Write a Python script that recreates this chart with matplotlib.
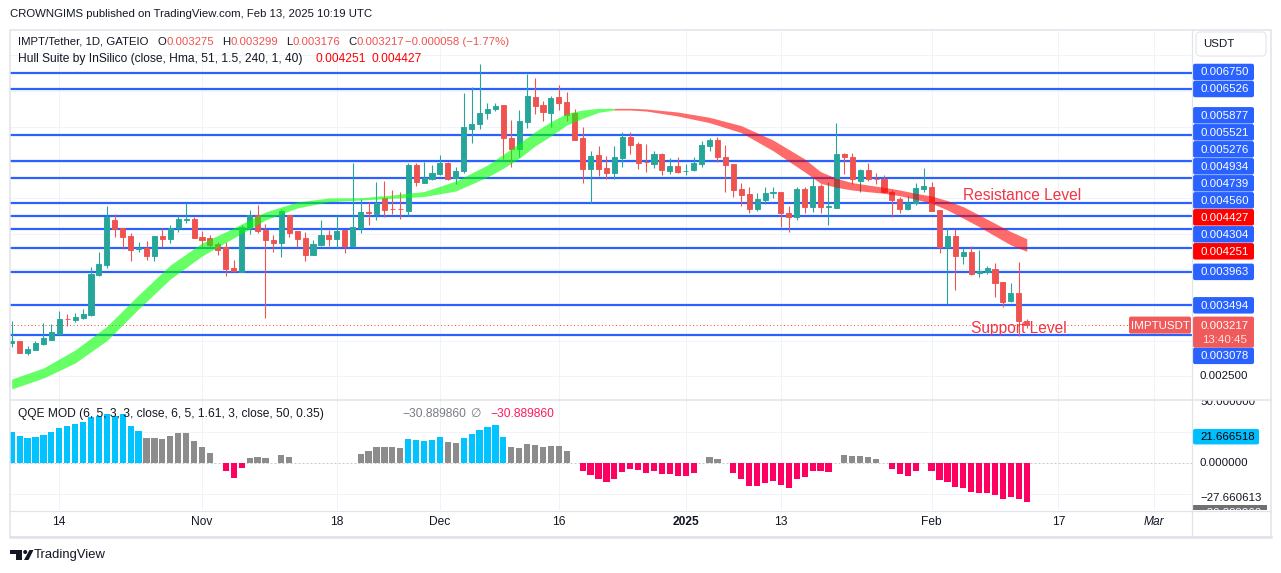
import numpy as np
import pandas as pd
import matplotlib
matplotlib.use("Agg")
import matplotlib.pyplot as plt
import matplotlib.dates as mdates
from matplotlib.patches import FancyBboxPatch, Rectangle, Polygon, Circle

W, H, DPI = 1281, 573, 100
plt.rcParams["font.family"] = ["Liberation Sans", "DejaVu Sans"]

# ---------------- data (prices in 1e-6 USDT) ----------------
UNIT = 1e-6
dates = pd.date_range("2024-10-08", "2025-02-13", freq="D")

open_e6 = [2962, 2994, 2830, 2872, 2956, 3012, 3088, 3302, 3288, 3316,
           3358, 3919, 4059, 4690, 4578, 4466, 4280, 4302, 4185, 4466,
           4424, 4574, 4695, 4704, 4452, 4438, 4353, 4311, 4017, 3965,
           4574, 4760, 4550, 4410, 4372, 4760, 4536, 4438, 4199, 4339,
           4480, 4424, 4550, 4330, 4574, 4800, 4774, 5002, 4846, 4846,
           4820, 5461, 5213, 5260, 5335, 5484, 5274, 5381, 5969, 6031,
           6185, 6246, 6302, 5839, 5681, 6068, 6418, 6302, 6194, 6414,
           6344, 6194, 5835, 5405, 5601, 5423, 5353, 5563, 5849, 5755,
           5503, 5479, 5615, 5377, 5447, 5375, 5391, 5479, 5727, 5811,
           5569, 5471, 5120, 5054, 4848, 4970, 5074, 5078, 4784, 4728,
           5124, 4868, 5166, 4876, 4862, 5615, 5569, 5241, 5391, 5268,
           5264, 5078, 4984, 4844, 4924, 5124, 5148, 4830, 4307, 4466,
           4190, 4237, 3943, 3957, 3999, 3821, 3555, 3663, 3275]
high_e6 = [3274, 2998, 2924, 2998, 3242, 3232, 3414, 3368, 3382, 3447,
           4035, 4237, 4886, 4774, 4580, 4503, 4377, 4391, 4470, 4578,
           4620, 4760, 4924, 4736, 4536, 4480, 4386, 4381, 4129, 4620,
           4830, 4900, 4634, 4480, 4844, 4765, 4540, 4517, 4410, 4690,
           4550, 4760, 4555, 5484, 4980, 4946, 5218, 5236, 5110, 5078,
           5484, 5484, 5507, 5461, 5601, 5507, 5437, 6466, 6558, 6876,
           6325, 6334, 6306, 6091, 6231, 6736, 6684, 6358, 6428, 6582,
           6484, 6246, 5997, 5661, 5727, 5587, 5727, 5927, 5927, 5787,
           5755, 5657, 5625, 5555, 5577, 5475, 5569, 5801, 5835, 5849,
           5741, 5475, 5204, 5148, 5064, 5148, 5148, 5082, 4886, 5148,
           5148, 5274, 5194, 5227, 6045, 5633, 5633, 5401, 5484, 5344,
           5320, 5110, 5016, 5026, 5204, 5414, 5227, 4834, 4574, 4564,
           4293, 4330, 4269, 4049, 4083, 3825, 3803, 4097, 3299]
low_e6 = [2914, 2826, 2802, 2868, 2938, 3008, 3074, 3204, 3260, 3307,
          3344, 3905, 4017, 4456, 4288, 4115, 4246, 4129, 4115, 4316,
          4363, 4517, 4644, 4433, 4316, 4316, 4199, 3905, 3968, 3962,
          4494, 4503, 3321, 4246, 4176, 4456, 4316, 4115, 4195, 4330,
          4330, 4302, 4232, 4307, 4503, 4620, 4690, 4736, 4774, 4700,
          4746, 5166, 5204, 5250, 5320, 5250, 5194, 5353, 5765, 5965,
          6105, 6222, 5541, 5428, 5577, 5975, 6175, 6077, 5997, 6232,
          6077, 5807, 5213, 4924, 5307, 5264, 5260, 5437, 5615, 5405,
          5367, 5414, 5320, 5335, 5353, 5320, 5377, 5437, 5661, 5507,
          5086, 5016, 4890, 4792, 4820, 4910, 5002, 4596, 4526, 4690,
          4792, 4806, 4792, 4620, 4858, 5335, 5194, 5086, 5236, 5194,
          5064, 4728, 4784, 4830, 4900, 5086, 4816, 4223, 3513, 3709,
          4069, 3919, 3887, 3929, 3615, 3475, 3545, 3064, 3176]
close_e6 = [2998, 2830, 2882, 2962, 3040, 3120, 3302, 3296, 3335, 3372,
            3933, 4073, 4728, 4564, 4452, 4269, 4293, 4185, 4466, 4428,
            4578, 4704, 4700, 4442, 4414, 4339, 4274, 4007, 3971, 4596,
            4760, 4536, 4410, 4372, 4816, 4512, 4424, 4199, 4353, 4480,
            4424, 4536, 4325, 4596, 4798, 4792, 4932, 4830, 4840, 4838,
            5461, 5227, 5274, 5344, 5484, 5264, 5377, 5989, 6035, 6194,
            6246, 6288, 5835, 5681, 6077, 6428, 6292, 6208, 6404, 6334,
            6161, 5811, 5405, 5587, 5405, 5353, 5573, 5857, 5741, 5493,
            5497, 5615, 5391, 5447, 5367, 5381, 5489, 5741, 5811, 5577,
            5465, 5110, 5040, 4848, 4980, 5064, 5080, 4784, 4728, 5124,
            4876, 5166, 4876, 4882, 5615, 5577, 5260, 5391, 5264, 5262,
            5078, 4970, 4848, 4924, 5134, 5166, 4820, 4316, 4466, 4190,
            4237, 3933, 3979, 4013, 3811, 3545, 3663, 3275, 3217]

# horizontal support / resistance levels drawn by the author
levels = [0.006750, 0.006526, 0.005877, 0.005521, 0.005276, 0.004934,
          0.004739, 0.004560, 0.004304, 0.003963, 0.003494, 0.003078]

# Hull Suite band (sampled bars, 1-based bar number), prices in 1e-6
hull_bar = [1, 5, 9, 13, 17, 21, 25, 29, 33, 37, 41, 45, 49, 53, 57,
            61, 63, 65, 67, 69, 71, 73, 75, 77, 79, 81, 85, 89, 93, 97,
            101, 103, 105, 107, 109, 111, 113, 115, 117, 119, 121, 123, 125, 127, 129]
hull_a_e6 = [2461, 2616, 2868, 3200, 3639, 4059, 4368, 4578, 4802, 4942,
             4998, 5002, 5040, 5089, 5236, 5461, 5611, 5765, 5927, 6068,
             6185, 6231, 6255, 6255, 6255, 6246, 6203, 6129, 6012, 5811,
             5545, 5367, 5274, 5213, 5180, 5148, 5110, 5064, 5026, 4961,
             4876, 4760, 4643, 4526, 4427]
hull_b_e6 = [2321, 2475, 2686, 3000, 3443, 3863, 4185, 4438, 4690, 4858,
             4946, 4970, 4994, 5019, 5096, 5292, 5415, 5555, 5727, 5867,
             6021, 6115, 6199, 6231, 6231, 6217, 6147, 6054, 5914, 5661,
             5363, 5204, 5148, 5110, 5086, 5064, 5030, 4980, 4924, 4830,
             4714, 4596, 4466, 4339, 4251]
hull_turn_bar = 77  # hull turns from rising (green) to falling (red)

# QQE MOD histogram, one value per bar (nan = no bar)
nan = np.nan
qqe_vals = [25.5, 22.3, 20.7, 21.5, 23.1, 25.5, 28.5, 30.4, 31.7, 33.6,
            37.1, 38.4, 39.5, 38.2, 39.8, 30.4, 26.1,
            20.4, 20.4, 19.9, 22.3, 24.2, 24.5, 18.0, 13.2, 8.6,
            nan, -5.9, -11.6, -3.5, 4.0, 5.1, 4.3, nan, 7.0, 5.1,
            nan, nan, nan, nan, nan, nan, nan, nan,
            7.5, 9.9, 13.4, 13.4, 13.2, 12.6,
            19.6, 18.8, 18.3, 18.8, 21.2,
            17.2, 16.1,
            20.4, 23.9, 26.9, 29.3, 30.9, 21.2,
            13.2, 12.1, 15.6, 14.8, 13.2, 14.2, 14.2, 9.9,
            nan,
            -5.9, -9.4, -12.4, -14.8, -12.4, -6.7, -4.6, -5.6, -7.5, -5.9,
            -8.6, -8.6, -10.2, -10.2, -7.5,
            nan, 5.1, 3.5, nan,
            -7.5, -12.6, -18.0, -18.0, -15.6, -14.0, -17.2, -19.6, -12.4,
            -10.8, -5.9, -5.9, -6.7,
            nan, 7.0, 6.2, 5.9, 5.4, 3.5, nan,
            -4.3, -8.3, -9.9, -5.9, nan,
            -5.9, -13.2, -14.8, -18.8, -19.6, -22.8, -23.7, -23.7, -25.3,
            -28.5, -26.9, -28.5, -30.889860]
# B = strong up (blue), G = neutral (gray), R = down (red), - = none
qqe_state = ("BBBBBBBBBBBBBBBBB" "GGGGGGGGG" "-" "RRR" "GGG" "-" "GG"
             "--------" "GGGGGG" "BBBBB" "GG" "BBBBBB" "GGGGGGGG" "-"
             "RRRRRRRRRRRRRRR" "-" "GG" "-" "RRRRRRRRRRRRR" "-" "GGGGG" "-"
             "RRRR" "-" "RRRRRRRRRRRRR")
qqe_axis_vals = [50.0, 21.666518, 0.0, -27.660613, -30.889860]

tick_dates = ["2024-10-14", "2024-11-01", "2024-11-18", "2024-12-01", "2024-12-16",
              "2025-01-01", "2025-01-13", "2025-02-01", "2025-02-17", "2025-03-01"]
tick_labels = ["14", "Nov", "18", "Dec", "16", "2025", "13", "Feb", "17", "Mar"]

# ---------------- helpers ----------------
def pt(pxsize):
    return pxsize * 72.0 / DPI

TEAL, RED = "#26a69a", "#ef5350"
BLUE = "#2962ff"
GRID = "#f0f3fa"
BORDER = "#e0e3eb"
DARK = "#131722"

fig = plt.figure(figsize=(W / DPI, H / DPI), dpi=DPI)
fig.patch.set_facecolor("white")


def fax(x0, y0, x1, y1):
    return fig.add_axes([x0 / W, 1 - y1 / H, (x1 - x0) / W, (y1 - y0) / H])


ax = fax(10, 30, 1192, 399)
aq = fax(10, 400, 1192, 510)

x = mdates.date2num(dates)
o = np.array(open_e6) * UNIT
h = np.array(high_e6) * UNIT
l = np.array(low_e6) * UNIT
c = np.array(close_e6) * UNIT

xl = (x[0] - 0.214, x[0] + 148.84)
for a in (ax, aq):
    a.set_xlim(*xl)
    for s in a.spines.values():
        s.set_visible(False)
    a.tick_params(left=False, bottom=False, labelleft=False, labelbottom=False)
    a.set_facecolor("white")
    for d in tick_dates:
        a.axvline(mdates.date2num(pd.Timestamp(d)), color=GRID, lw=pt(1), zorder=0)

ax.set_ylim(0.0021811, 0.0073526)
aq.set_ylim(-37.66, 51.05)

# price grid
for gp in np.arange(0.0025, 0.00705, 0.0005):
    ax.axhline(gp, color=GRID, lw=pt(1), zorder=0)

# levels
for lv in levels:
    ax.axhline(lv, color=BLUE, lw=pt(2.2), zorder=2)

# current price dotted line
ax.axhline(c[-1], color=RED, lw=pt(1), ls=(0, (1, 2.5)), zorder=2)

# candles
up = c >= o
col = np.where(up, TEAL, RED)
ax.vlines(x, l, h, colors=col, lw=pt(1.1), zorder=3)
ax.bar(x, np.abs(c - o), bottom=np.minimum(o, c), width=0.64, color=col,
       edgecolor=col, lw=pt(0.9), zorder=4)

# hull band
hb = np.array(hull_bar)
hx = x[hb - 1]
ha = np.array(hull_a_e6) * UNIT
hbv = np.array(hull_b_e6) * UNIT
k = int(np.where(hb == hull_turn_bar)[0][0])
ax.fill_between(hx[:k + 1], hbv[:k + 1], ha[:k + 1], color="#00ff00", alpha=0.6, lw=0, zorder=5)
ax.fill_between(hx[k:], hbv[k:], ha[k:], color="#ff0000", alpha=0.58, lw=0, zorder=5)

# annotations
ax.text(x[120], 0.00504, "Resistance Level", color="#f23645", fontsize=pt(15.5),
        ha="left", va="center", zorder=6)
ax.text(x[121], 0.003176, "Support Level", color="#f23645", fontsize=pt(15.5),
        ha="left", va="center", zorder=6)

# QQE pane
for gv in (25, -25):
    aq.axhline(gv, color=GRID, lw=pt(1), zorder=0)
aq.axhline(0, color="#c9cbd1", lw=pt(1), ls=(0, (2, 2)), zorder=1)
qv = np.array(qqe_vals)
state_col = {"B": "#00c3ff", "G": "#8c8c8c", "R": "#ff0062"}
mask = np.array([s != "-" for s in qqe_state])
aq.bar(x[mask], qv[mask], width=0.78,
       color=[state_col[s] for s in np.array(list(qqe_state))[mask]], zorder=3)

# ---------------- overlay (pixel space) ----------------
ov = fig.add_axes([0, 0, 1, 1])
ov.set_xlim(0, W)
ov.set_ylim(H, 0)
ov.axis("off")
ov.patch.set_alpha(0)
ov.set_zorder(10)
R = fig.canvas.get_renderer()


def ypix(a, val):
    return H - a.transData.transform((x[0], val))[1]


def xpix(a, xv):
    return a.transData.transform((xv, 0))[0]


# frame / separators
ov.add_patch(Rectangle((10, 30), 1261, 507, fill=False, ec=BORDER, lw=pt(1.5)))
ov.plot([1192, 1192], [30, 537], color=BORDER, lw=pt(1.2))
ov.plot([10, 1271], [399.5, 399.5], color=BORDER, lw=pt(1.5))
ov.plot([10, 1271], [510.5, 510.5], color=BORDER, lw=pt(1.2))
ov.plot([10, 1271], [537, 537], color=BORDER, lw=pt(2.5))

# header & legends
FS = pt(12)
FS1 = pt(11.4)
ov.text(10, 14, "CROWNGIMS published on TradingView.com, Feb 13, 2025 10:19 UTC",
        color=DARK, fontsize=FS1, va="center", ha="left")


def seq(x0, y, items, size=FS):
    xx = x0
    for txt, colr in items:
        t = ov.text(xx, y, txt, color=colr, fontsize=size, va="center", ha="left")
        xx += t.get_window_extent(renderer=R).width
    return xx


LRED = "#ef5350"
seq(18, 42, [("IMPT/Tether, 1D, GATEIO", DARK)], FS1)
seq(158, 42, [("O", DARK), ("%.6f" % (o[-1]), LRED)], FS1)
seq(222, 42, [("H", DARK), ("%.6f" % (h[-1]), LRED)], FS1)
seq(286, 42, [("L", DARK), ("%.6f" % (l[-1]), LRED)], FS1)
seq(348, 42, [("C", DARK), ("%.6f" % (c[-1]), LRED)], FS1)
chg = c[-1] - c[-2]
seq(405, 42, [("\u2212%.6f (\u2212%.2f%%)" % (abs(chg), abs(chg) / c[-2] * 100), LRED)], FS1)
seq(18, 59, [("Hull Suite by InSilico (close, Hma, 51, 1.5, 240, 1, 40)", DARK)])
seq(315, 59, [("%.6f" % hbv[-1], "#ff0000")])
seq(371, 59, [("%.6f" % ha[-1], "#ff0000")])

seq(18, 414, [("QQE MOD (6, 5, 3, 3, close, 6, 5, 1.61, 3, close, 50, 0.35)", DARK)])
seq(402, 414, [("\u221230.889860", "#787b86")])
seq(470, 414, [("\u2205", "#787b86")])
seq(490, 414, [("\u221230.889860", "#ff1a5e")])

# USDT box
ov.add_patch(FancyBboxPatch((1196, 32), 70, 24, boxstyle="round,pad=0,rounding_size=4",
                            fc="white", ec=BORDER, lw=pt(1)))
ov.text(1203, 44, "USDT", color=DARK, fontsize=pt(11.5), va="center", ha="left")

# right price labels with overlap resolution
AX_FS = pt(11.5)
BOX_X0, BOX_W, BOX_H = 1193, 61, 16.5
price_y = ypix(ax, c[-1])
plabels = [(lv, BLUE) for lv in levels] + [(hbv[-1], "#ff0000"), (ha[-1], "#ff0000")]
above = sorted([p for p in plabels if p[0] > c[-1]], key=lambda t: t[0])
below = sorted([p for p in plabels if p[0] < c[-1]], key=lambda t: -t[0])
placed = []
prev = price_y - 8.5 + BOX_H / 2 + 0.5
for val, colr in above:
    yy = min(ypix(ax, val), prev - BOX_H - 0.5)
    placed.append((val, colr, yy))
    prev = yy
prev = price_y + 22.5 - BOX_H / 2 - 0.5
for val, colr in below:
    yy = max(ypix(ax, val), prev + BOX_H + 0.5)
    placed.append((val, colr, yy))
    prev = yy
for val, colr, yy in placed:
    ov.add_patch(FancyBboxPatch((BOX_X0, yy - BOX_H / 2), BOX_W, BOX_H,
                                boxstyle="round,pad=0,rounding_size=2", fc=colr, ec="none"))
    ov.text(BOX_X0 + BOX_W / 2 + 1, yy + 0.5, "%.6f" % val, color="white", fontsize=AX_FS,
            ha="center", va="center")
# current price label
ov.add_patch(FancyBboxPatch((BOX_X0, price_y - 8.5), BOX_W, 31,
                            boxstyle="round,pad=0,rounding_size=2", fc="#f05a5a", ec="none"))
ov.text(BOX_X0 + BOX_W / 2 + 1, price_y + 0.5, "%.6f" % c[-1], color="white",
        fontsize=AX_FS, ha="center", va="center")
ov.text(BOX_X0 + BOX_W / 2 + 1, price_y + 14.5, "13:40:45", color="#fde4e4",
        fontsize=AX_FS, ha="center", va="center")
ov.add_patch(FancyBboxPatch((1129, price_y - 8.5), 62, 17,
                            boxstyle="round,pad=0,rounding_size=2", fc="#f05a5a", ec="none"))
ov.text(1160, price_y + 0.5, "IMPTUSDT", color="white", fontsize=AX_FS, ha="center", va="center")
ov.text(1200, ypix(ax, 0.0025) - 0.5, "0.002500", color=DARK, fontsize=AX_FS, ha="left", va="center")

# QQE right axis (clipped to pane)
aqr = fax(1192, 400, 1271, 510)
aqr.set_xlim(1192, 1271)
aqr.set_ylim(510, 400)
aqr.axis("off")
aqr.patch.set_alpha(0)


def qy(v):
    return ypix(aq, v)


aqr.text(1200, qy(qqe_axis_vals[0]) + 1, "%.6f" % qqe_axis_vals[0], color=DARK,
         fontsize=AX_FS, ha="left", va="center", clip_on=True)
aqr.add_patch(FancyBboxPatch((1193, qy(qqe_axis_vals[1]) - 7.5), 66, 15.5,
                             boxstyle="round,pad=0,rounding_size=2", fc="#00bfff", ec="none"))
aqr.text(1200, qy(qqe_axis_vals[1]) + 0.5, "%.6f" % qqe_axis_vals[1], color="black",
         fontsize=AX_FS, ha="left", va="center")
aqr.text(1200, qy(qqe_axis_vals[2]), "%.6f" % qqe_axis_vals[2], color=DARK,
         fontsize=AX_FS, ha="left", va="center")
aqr.text(1200, qy(qqe_axis_vals[3]), "\u2212%.6f" % abs(qqe_axis_vals[3]), color=DARK,
         fontsize=AX_FS, ha="left", va="center")
aqr.add_patch(Rectangle((1193, 505), 74, 16, fc="#707070", ec="none", clip_on=True))
aqr.text(1200, 513, "\u2212%.6f" % abs(qqe_axis_vals[4]), color="white",
         fontsize=AX_FS, ha="left", va="center", clip_on=True)

# x tick labels
for d, lab in zip(tick_dates, tick_labels):
    xp = xpix(aq, mdates.date2num(pd.Timestamp(d)))
    ov.text(xp, 522, lab, color=DARK, fontsize=pt(12), ha="center", va="center",
            fontweight="bold" if lab == "2025" else "normal",
            fontstyle="italic" if lab == "Mar" else "normal")

# TradingView logo
ov.add_patch(Rectangle((10, 550), 12, 3.5, fc=DARK, ec="none"))
ov.add_patch(Rectangle((16, 550), 5.5, 10, fc=DARK, ec="none"))
ov.add_patch(Circle((25.2, 552), 2.0, fc=DARK, ec="none"))
ov.add_patch(Polygon([[29.5, 550], [33.5, 550], [28.5, 560], [24.0, 560]], closed=True,
                     fc=DARK, ec="none"))
ov.text(34, 555, "TradingView", color=DARK, fontsize=pt(13), ha="left", va="center")

fig.savefig("out.png", dpi=DPI, facecolor="white")
